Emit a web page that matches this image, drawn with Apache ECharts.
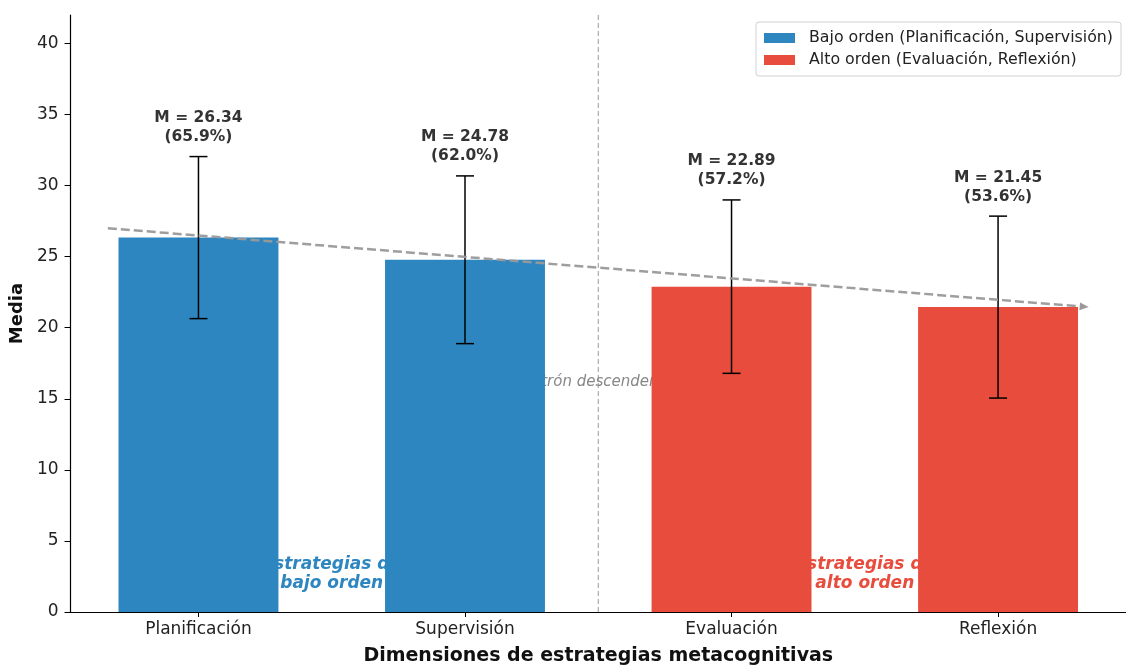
<!DOCTYPE html>
<html>
<head>
<meta charset="utf-8">
<script src="https://cdn.jsdelivr.net/npm/echarts@6/dist/echarts.min.js"></script>
<style>
  html, body { margin: 0; padding: 0; background: #ffffff; }
  #chart { width: 1126px; height: 671px; }
</style>
</head>
<body>
<div id="chart"></div>
<script>
// Metacognitive strategy dimensions: means and standard deviations
const categories = ['Planificación', 'Supervisión', 'Evaluación', 'Reflexión'];
const means = [26.34, 24.78, 22.89, 21.45];
const sds = [5.70, 5.90, 6.10, 6.40];
const groups = [0, 0, 1, 1];            // 0 = bajo orden, 1 = alto orden
const maxScore = 40;                     // scale maximum used for percentages
const yTicks = [0, 5, 10, 15, 20, 25, 30, 35, 40];
const groupNames = ['Bajo orden (Planificación, Supervisión)', 'Alto orden (Evaluación, Reflexión)'];
const groupColors = ['#2E86C1', '#E74C3C'];
const groupNotes = ['Estrategias de\nbajo orden', 'Estrategias de\nalto orden'];
const groupNoteX = [0.5, 2.5];
const groupNoteY = 2.65;
const trendStart = [-0.34, 27.0];
const trendEnd = [3.34, 21.45];
const dividerX = 1.5;
const trendNote = 'Patrón descendente';
const trendNoteY = 16.2;

const FONT = 'DejaVu Sans';
const BAR_HALF = 0.3;

const chart = echarts.init(document.getElementById('chart'));

function pctText(m) {
  return (Math.round(m / maxScore * 1000 + 1e-6) / 10).toFixed(1);
}

function barSeries(g) {
  const idx = categories.map((c, i) => i).filter(i => groups[i] === g);
  return {
    name: groupNames[g],
    type: 'custom',
    z: 3,
    itemStyle: { color: groupColors[g] },
    data: idx.map(i => [i, means[i]]),
    renderItem: (params, api) => {
      const p0 = api.coord([api.value(0) - BAR_HALF, api.value(1)]);
      const p1 = api.coord([api.value(0) + BAR_HALF, 0]);
      return {
        type: 'rect',
        shape: { x: p0[0], y: p0[1], width: p1[0] - p0[0], height: p1[1] - p0[1] },
        style: { fill: groupColors[g] }
      };
    }
  };
}

const option = {
  backgroundColor: '#ffffff',
  animation: false,
  textStyle: { fontFamily: FONT },
  grid: { left: 70, right: -3, top: 15, bottom: 54, containLabel: false },
  legend: {
    orient: 'vertical',
    right: 5,
    top: 22,
    padding: [8, 8, 8, 8],
    itemWidth: 31,
    itemHeight: 10,
    itemGap: 6,
    icon: 'rect',
    backgroundColor: 'rgba(255,255,255,0.85)',
    borderColor: '#d0d0d0',
    borderWidth: 1,
    borderRadius: 3,
    textStyle: { fontFamily: FONT, fontSize: 15.8, color: '#222', padding: [0, 0, 0, 9] },
    data: groupNames
  },
  xAxis: {
    type: 'value',
    min: -0.48,
    max: 3.48,
    name: 'Dimensiones de estrategias metacognitivas',
    nameLocation: 'middle',
    nameGap: 35,
    nameTextStyle: { fontFamily: FONT, fontSize: 19, fontWeight: 'bold', color: '#111' },
    splitLine: { show: false },
    axisLine: { show: true, onZero: false, lineStyle: { color: '#000', width: 1.2 } },
    axisTick: { show: true, inside: false, length: 5, customValues: [0, 1, 2, 3], lineStyle: { color: '#000' } },
    axisLabel: {
      customValues: [0, 1, 2, 3],
      margin: 9,
      fontFamily: FONT, fontSize: 17, color: '#222',
      formatter: v => categories[Math.round(v)] || ''
    }
  },
  yAxis: {
    type: 'value',
    min: 0,
    max: 42,
    name: 'Media',
    nameLocation: 'middle',
    nameGap: 35,
    nameTextStyle: { fontFamily: FONT, fontSize: 18, fontWeight: 'bold', color: '#111' },
    splitLine: { show: false },
    axisLine: { show: true, onZero: false, lineStyle: { color: '#000', width: 1.2 } },
    axisTick: { show: true, inside: false, length: 6, customValues: yTicks, lineStyle: { color: '#000' } },
    axisLabel: { customValues: yTicks, margin: 12, fontFamily: FONT, fontSize: 17, color: '#222' }
  },
  series: [
    // annotations that sit behind the bars
    {
      type: 'custom',
      z: 1,
      silent: true,
      data: [0],
      renderItem: (params, api) => {
        const children = [];
        const top = params.coordSys.y;
        const bot = params.coordSys.y + params.coordSys.height;
        const dx = api.coord([dividerX, 0])[0];
        children.push({
          type: 'line',
          shape: { x1: dx, y1: top, x2: dx, y2: bot },
          style: { stroke: '#999', lineWidth: 1, lineDash: [5, 3] }
        });
        const tp = api.coord([dividerX, trendNoteY]);
        children.push({
          type: 'text',
          x: tp[0], y: tp[1],
          style: {
            text: trendNote, fill: '#888', font: 'italic 15px "DejaVu Sans"',
            textAlign: 'center', textVerticalAlign: 'middle'
          }
        });
        groupNotes.forEach((t, g) => {
          const p = api.coord([groupNoteX[g], groupNoteY]);
          children.push({
            type: 'text',
            x: p[0], y: p[1],
            style: {
              text: t, fill: groupColors[g], font: 'italic bold 17px "DejaVu Sans"',
              textAlign: 'center', textVerticalAlign: 'middle', lineHeight: 19
            }
          });
        });
        return { type: 'group', children };
      }
    },
    barSeries(0),
    barSeries(1),
    // error bars and value labels
    {
      type: 'custom',
      z: 4,
      silent: true,
      data: categories.map((c, i) => [i, means[i], sds[i]]),
      renderItem: (params, api) => {
        const x = api.value(0), m = api.value(1), s = api.value(2);
        const pt = api.coord([x, m + s]);
        const pb = api.coord([x, m - s]);
        const cap = 9;
        return {
          type: 'group',
          children: [
            { type: 'line', shape: { x1: pt[0], y1: pt[1], x2: pb[0], y2: pb[1] }, style: { stroke: '#000', lineWidth: 1.5 } },
            { type: 'line', shape: { x1: pt[0] - cap, y1: pt[1], x2: pt[0] + cap, y2: pt[1] }, style: { stroke: '#000', lineWidth: 1.5 } },
            { type: 'line', shape: { x1: pb[0] - cap, y1: pb[1], x2: pb[0] + cap, y2: pb[1] }, style: { stroke: '#000', lineWidth: 1.5 } },
            {
              type: 'text', x: pt[0], y: pt[1] - 10,
              style: {
                text: 'M = ' + m.toFixed(2) + '\n(' + pctText(m) + '%)',
                fill: '#333', font: 'bold 15.5px "DejaVu Sans"',
                textAlign: 'center', textVerticalAlign: 'bottom', lineHeight: 19
              }
            }
          ]
        };
      }
    },
    // descending trend arrow
    {
      type: 'custom',
      z: 5,
      silent: true,
      data: [[trendStart[0], trendStart[1], trendEnd[0], trendEnd[1]]],
      renderItem: (params, api) => {
        const a = api.coord([api.value(0), api.value(1)]);
        const b = api.coord([api.value(2), api.value(3)]);
        const ang = Math.atan2(b[1] - a[1], b[0] - a[0]);
        const hl = 9, hw = 4;
        const bx = b[0] - hl * Math.cos(ang), by = b[1] - hl * Math.sin(ang);
        const nx = -Math.sin(ang), ny = Math.cos(ang);
        return {
          type: 'group',
          children: [
            { type: 'line', shape: { x1: a[0], y1: a[1], x2: bx, y2: by }, style: { stroke: '#999', lineWidth: 2.5, lineDash: [9, 4], opacity: 0.95 } },
            {
              type: 'polygon',
              shape: { points: [[b[0], b[1]], [bx + nx * hw, by + ny * hw], [bx - nx * hw, by - ny * hw]] },
              style: { fill: '#999' }
            }
          ]
        };
      }
    }
  ]
};

chart.setOption(option);
</script>
</body>
</html>
